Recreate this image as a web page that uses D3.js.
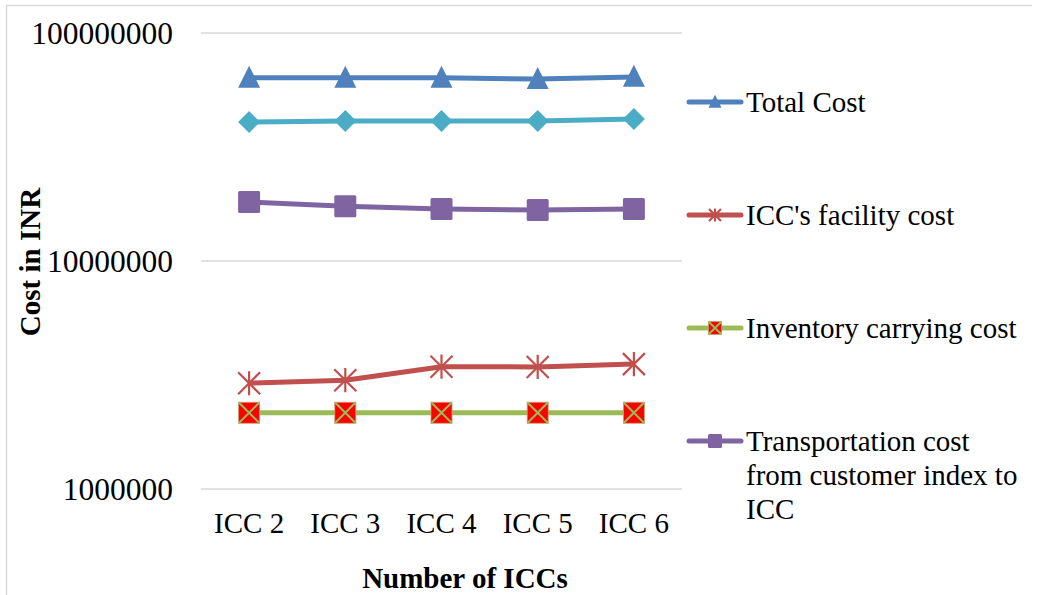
<!DOCTYPE html>
<html><head><meta charset="utf-8">
<script src="https://cdn.jsdelivr.net/npm/d3@7"></script>
<style>body{margin:0;background:#fff}svg{display:block}text{font-family:"Liberation Serif","Times New Roman",serif;fill:#000}</style>
</head><body><svg id="c" width="1038" height="595"></svg>
<script>
const categories = ["ICC 2","ICC 3","ICC 4","ICC 5","ICC 6"];
const totalCost = [63600000, 63600000, 63600000, 62800000, 64200000];
const otherCost = [40700000, 41100000, 41100000, 41100000, 42000000];
const transportCost = [18150000, 17400000, 16900000, 16750000, 16900000];
const facilityCost = [2910000, 3000000, 3440000, 3430000, 3530000];
const inventoryCost = [2160000, 2160000, 2160000, 2160000, 2160000];
const yTicks = [1000000, 10000000, 100000000];

const series = [
  {name:"Total Cost", values:totalCost, color:"#4F81BD", marker:"triangle", legend:true},
  {name:"", values:otherCost, color:"#4BACC6", marker:"diamond", legend:false},
  {name:"Transportation cost|from customer index to|ICC", values:transportCost, color:"#8064A2", marker:"square", legend:true},
  {name:"ICC's facility cost", values:facilityCost, color:"#C0504D", marker:"star", legend:true},
  {name:"Inventory carrying cost", values:inventoryCost, color:"#9BBB59", marker:"xsquare", legend:true}
];

const svg = d3.select("#c");
// frame
svg.append("line").attr("x1",6).attr("y1",5.5).attr("x2",1032).attr("y2",5.5).attr("stroke","#d9d9d9").attr("stroke-width",1.5);
svg.append("line").attr("x1",6.5).attr("y1",5).attr("x2",6.5).attr("y2",595).attr("stroke","#d9d9d9").attr("stroke-width",1.5);

const x = d3.scaleBand().domain(categories).range([201,682]);
const y = d3.scaleLog().domain([1e6,1e8]).range([489,33]);

// gridlines
svg.append("g").selectAll("line").data(yTicks).join("line")
  .attr("x1",201).attr("x2",682).attr("y1",d=>y(d)).attr("y2",d=>y(d))
  .attr("stroke","#d9d9d9").attr("stroke-width",1.3);

// y axis
const yAxis = d3.axisLeft(y).tickValues(yTicks).tickFormat(d3.format("d")).tickSize(0).tickPadding(0);
const gy = svg.append("g").attr("transform","translate(173,0)").call(yAxis);
gy.select(".domain").remove();
gy.selectAll("text").attr("font-size",31.5).attr("font-family","Liberation Serif").attr("fill","#000").attr("dy","0.34em");

// x axis
const xAxis = d3.axisBottom(x).tickSize(0).tickPadding(0);
const gx = svg.append("g").attr("transform","translate(0,512)").call(xAxis);
gx.select(".domain").remove();
gx.selectAll("text").attr("font-size",29).attr("font-family","Liberation Serif").attr("fill","#000").attr("dy","0.71em");

// axis titles
svg.append("text").attr("transform","translate(40,262) rotate(-90)").attr("text-anchor","middle")
  .attr("font-size",29).attr("font-weight","bold").text("Cost in INR");
svg.append("text").attr("x",465).attr("y",588).attr("text-anchor","middle")
  .attr("font-size",29).attr("font-weight","bold").text("Number of ICCs");

function drawMarker(g, type, cx, cy, s, color){
  if(type==="triangle"){
    g.append("path").attr("d",`M${cx},${cy-s*0.55}L${cx+s*0.5},${cy+s*0.45}L${cx-s*0.5},${cy+s*0.45}Z`).attr("fill",color);
  } else if(type==="diamond"){
    const r=s*0.5;
    g.append("path").attr("d",`M${cx},${cy-r}L${cx+r},${cy}L${cx},${cy+r}L${cx-r},${cy}Z`).attr("fill",color);
  } else if(type==="square"){
    g.append("rect").attr("x",cx-s/2).attr("y",cy-s/2).attr("width",s).attr("height",s).attr("rx",1.5).attr("fill",color);
  } else if(type==="star"){
    const r=s*0.5;
    g.append("path").attr("d",`M${cx-r},${cy-r}L${cx+r},${cy+r}M${cx-r},${cy+r}L${cx+r},${cy-r}M${cx},${cy-r*1.1}L${cx},${cy+r*1.1}`)
      .attr("stroke",color).attr("stroke-width",2.2).attr("fill","none");
  } else if(type==="xsquare"){
    const r=s/2;
    g.append("rect").attr("x",cx-r).attr("y",cy-r).attr("width",s).attr("height",s).attr("fill","#FF0000").attr("stroke","#C8A070").attr("stroke-width",0.8);
    g.append("path").attr("d",`M${cx-r},${cy-r}L${cx+r},${cy+r}M${cx-r},${cy+r}L${cx+r},${cy-r}`)
      .attr("stroke",color).attr("stroke-width",2).attr("fill","none");
  }
}

const line = d3.line().x((d,i)=>x(categories[i])+x.bandwidth()/2).y(d=>y(d));
const plot = svg.append("g");
series.forEach(s=>{
  plot.append("path").datum(s.values).attr("d",line).attr("fill","none").attr("stroke",s.color)
    .attr("stroke-width",5).attr("stroke-linejoin","round");
});
series.forEach(s=>{
  const mg = plot.append("g");
  const size = {triangle:22, diamond:22, square:22, star:22, xsquare:21}[s.marker];
  s.values.forEach((v,i)=>drawMarker(mg, s.marker, x(categories[i])+x.bandwidth()/2, y(v), size, s.color));
});

// legend
const legendOrder = [series[0], series[3], series[4], series[2]];
const legY = [102, 215, 328, 441];
const lg = svg.append("g");
legendOrder.forEach((s,i)=>{
  const yy = legY[i];
  lg.append("line").attr("x1",689).attr("x2",741).attr("y1",yy).attr("y2",yy).attr("stroke",s.color)
    .attr("stroke-width",5).attr("stroke-linecap","round");
  const size = {triangle:13, diamond:13, square:14, star:12, xsquare:13}[s.marker];
  drawMarker(lg, s.marker, 715, yy, size, s.color);
  const lines = s.name.split("|");
  lines.forEach((t,j)=>{
    lg.append("text").attr("x",746).attr("y",yy+j*34).attr("dy","0.34em").attr("font-size",29).text(t);
  });
});
</script></body></html>
